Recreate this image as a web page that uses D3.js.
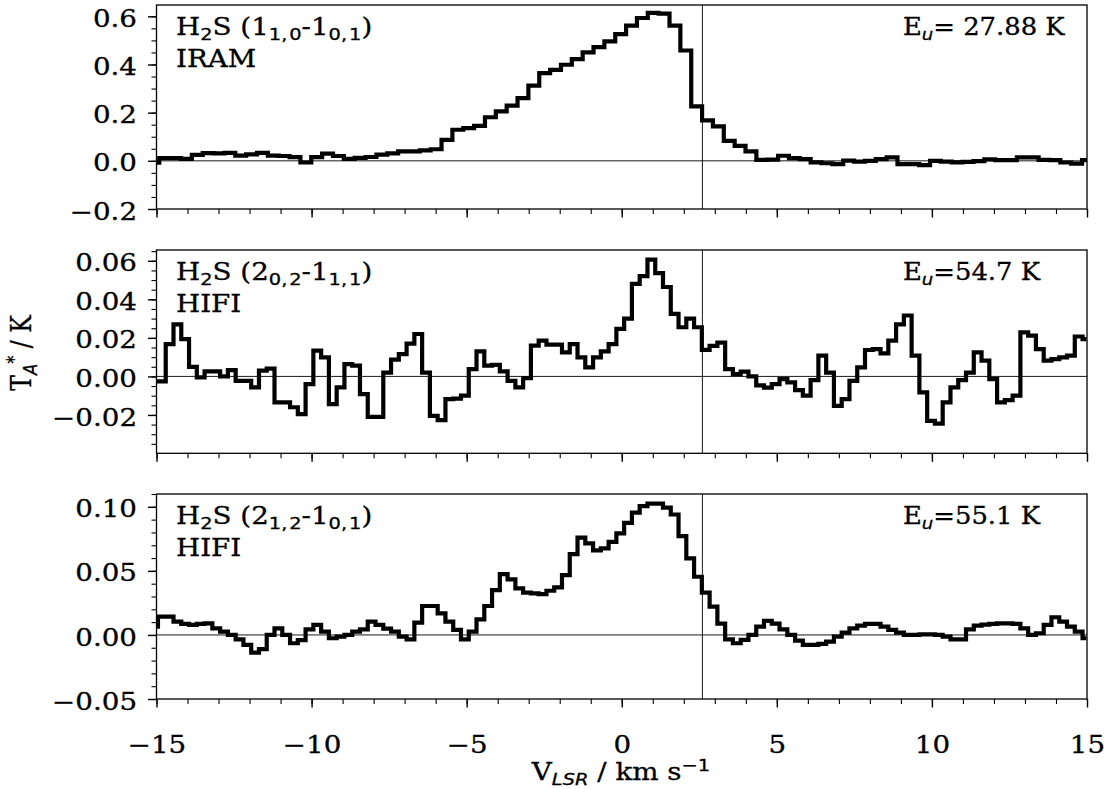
<!DOCTYPE html>
<html><head><meta charset="utf-8">
<script src="https://cdn.jsdelivr.net/npm/d3@7"></script>
<style>body{margin:0;background:#fff}svg{display:block}</style>
</head><body>
<svg id="c" width="1108" height="789"></svg>
<script>
// ---------------- data ----------------
const vIRAM0 = -15.085, dvIRAM = 0.35;     // channel grid of the IRAM spectrum
const vHIFI0 = -15.078, dvHIFI = 0.2505;   // channel grid of the HIFI spectra
const iram110 = [
 -0.008, 0.011, 0.011, 0.008, 0.025, 0.032, 0.031, 0.033, 0.022, 0.027,
  0.033, 0.022, 0.020, 0.015,-0.007, 0.015, 0.030, 0.020, 0.008, 0.012,
  0.016, 0.026, 0.031, 0.039, 0.039, 0.043, 0.048, 0.087, 0.129, 0.136,
  0.145, 0.181, 0.205, 0.229, 0.260, 0.312, 0.364, 0.378, 0.399, 0.422,
  0.450, 0.472, 0.496, 0.526, 0.561, 0.593, 0.614, 0.611, 0.561, 0.458,
  0.226, 0.168, 0.143, 0.083, 0.062, 0.039, 0.004, 0.005, 0.021, 0.011,
  0.007,-0.006,-0.010,-0.014, 0.001,-0.003, 0.000, 0.007, 0.014,-0.014,
 -0.014,-0.018, 0.000,-0.003,-0.006,-0.004,-0.001, 0.006, 0.003, 0.003,
  0.014, 0.014, 0.004, 0.003,-0.007,-0.012, 0.003];
const hifi202 = [
 -0.0026,-0.0026, 0.0168, 0.0270, 0.0194, 0.0050,-0.0005, 0.0026, 0.0026, 0.0000,
  0.0033,-0.0023,-0.0023,-0.0057, 0.0030, 0.0040,-0.0135,-0.0135,-0.0160,-0.0196,
 -0.0040, 0.0134, 0.0099,-0.0144,-0.0057, 0.0064, 0.0056,-0.0092,-0.0210,-0.0210,
  0.0020, 0.0087, 0.0116, 0.0170, 0.0220, 0.0020,-0.0205,-0.0227,-0.0118,-0.0115,
 -0.0100, 0.0038, 0.0130, 0.0056, 0.0060, 0.0026,-0.0023,-0.0057,-0.0009, 0.0160,
  0.0186, 0.0165, 0.0165, 0.0125, 0.0168, 0.0099, 0.0047, 0.0099, 0.0130, 0.0168,
  0.0247, 0.0300, 0.0480, 0.0520, 0.0606, 0.0536, 0.0464, 0.0325, 0.0255, 0.0300,
  0.0255, 0.0138, 0.0158, 0.0175, 0.0038, 0.0012, 0.0025, 0.0000,-0.0046,-0.0058,
 -0.0040,-0.0014,-0.0031,-0.0071,-0.0100,-0.0019, 0.0108, 0.0020,-0.0153,-0.0118,
 -0.0023, 0.0047, 0.0137, 0.0142, 0.0120, 0.0186, 0.0270, 0.0316, 0.0108,-0.0083,
 -0.0231,-0.0245,-0.0135,-0.0057,-0.0019, 0.0020, 0.0125, 0.0082,-0.0014,-0.0135,
 -0.0123,-0.0100, 0.0229, 0.0212, 0.0142, 0.0082, 0.0090, 0.0099, 0.0108, 0.0207,
  0.0194];
const hifi212 = [
  0.0065, 0.0143, 0.0143, 0.0104, 0.0086, 0.0078, 0.0086, 0.0091, 0.0052, 0.0026,
  0.0000,-0.0034,-0.0078,-0.0138,-0.0110, 0.0000, 0.0052, 0.0000,-0.0065,-0.0040,
  0.0044, 0.0078, 0.0026,-0.0026,-0.0013, 0.0000, 0.0026, 0.0044, 0.0104, 0.0078,
  0.0050, 0.0026,-0.0013,-0.0034, 0.0096, 0.0226, 0.0226, 0.0169, 0.0104, 0.0039,
 -0.0034, 0.0026, 0.0122, 0.0226, 0.0350, 0.0475, 0.0434, 0.0363, 0.0330, 0.0325,
  0.0319, 0.0345, 0.0371, 0.0467, 0.0630, 0.0760, 0.0714, 0.0660, 0.0675, 0.0727,
  0.0792, 0.0875, 0.0955, 0.1005, 0.1025, 0.1025, 0.0994, 0.0940, 0.0771, 0.0597,
  0.0454, 0.0330, 0.0221, 0.0088,-0.0034,-0.0065,-0.0039, 0.0000, 0.0065, 0.0110,
  0.0088, 0.0044, 0.0000,-0.0044,-0.0078,-0.0078,-0.0070,-0.0052,-0.0013, 0.0018,
  0.0052, 0.0073, 0.0086, 0.0086, 0.0065, 0.0039, 0.0018, 0.0000, 0.0000, 0.0005,
  0.0005, 0.0000,-0.0013,-0.0034,-0.0034, 0.0044, 0.0073, 0.0080, 0.0086, 0.0091,
  0.0091, 0.0086, 0.0052, 0.0000, 0.0013, 0.0078, 0.0138, 0.0104, 0.0065, 0.0026,
 -0.0026];
const xTicks = [-15, -10, -5, 0, 5, 10, 15];
const xTickLabels = ["\u221215", "\u221210", "\u22125", "0", "5", "10", "15"];
const yTicks1 = [-0.2, 0.0, 0.2, 0.4, 0.6];
const yTickLabels1 = ["\u22120.2", "0.0", "0.2", "0.4", "0.6"];
const yTicks2 = [-0.02, 0.00, 0.02, 0.04, 0.06];
const yTickLabels2 = ["\u22120.02", "0.00", "0.02", "0.04", "0.06"];
const yTicks3 = [-0.05, 0.00, 0.05, 0.10];
const yTickLabels3 = ["\u22120.05", "0.00", "0.05", "0.10"];
const vSys = 2.6;

// ---------------- layout ----------------
const SX = 1.18, FS = 23.5, TSW = 0.3;
const SERIF = "'DejaVu Serif', serif", SANS = "'DejaVu Sans', sans-serif";
const xL = 156.5, xR = 1087;
const panels = [
  {top: 5,   bottom: 209,   dom: [-0.2, 0.647],  vals: iram110, v0: vIRAM0, dv: dvIRAM,
   ticks: yTicks1, labels: yTickLabels1, minor: 0.05,
   name: [["H",0],["2",1],["S (1",0],["1,\u200A0",1],["-1",0],["0,\u200A1",1],[")",0]], inst: "IRAM", eu: "= 27.88 K"},
  {top: 250, bottom: 453.3, dom: [-0.0399, 0.0656], vals: hifi202, v0: vHIFI0, dv: dvHIFI,
   ticks: yTicks2, labels: yTickLabels2, minor: 0.005,
   name: [["H",0],["2",1],["S (2",0],["0,\u200A2",1],["-1",0],["1,\u200A1",1],[")",0]], inst: "HIFI", eu: "=54.7 K"},
  {top: 494, bottom: 699,   dom: [-0.05, 0.11],  vals: hifi212, v0: vHIFI0, dv: dvHIFI,
   ticks: yTicks3, labels: yTickLabels3, minor: 0.01,
   name: [["H",0],["2",1],["S (2",0],["1,\u200A2",1],["-1",0],["0,\u200A1",1],[")",0]], inst: "HIFI", eu: "=55.1 K"}
];

const svg = d3.select("#c");
const x = d3.scaleLinear().domain([-15, 15]).range([xL, xR]);

function stretch(sel) {
  sel.each(function () {
    const t = d3.select(this);
    const tx = +t.attr("x") || 0;
    t.attr("x", tx / SX).attr("transform", `scale(${SX},1)`)
      .attr("stroke", "#000").attr("stroke-width", TSW);
  });
}

// rich text: parts [[string, mode]] 0 serif, 1 sans subscript, 2 italic sans subscript, 3 sans superscript
function rich(parent, px, py, parts, anchor, rotate, sx) {
  const g = parent.append("g").attr("transform", `translate(${px},${py}) scale(${sx || SX},1)` + (rotate ? " rotate(-90)" : ""));
  const t = g.append("text").attr("text-anchor", anchor || "start")
    .style("font-family", SERIF).style("font-size", FS + "px").attr("fill", "#000")
    .attr("stroke", "#000").attr("stroke-width", TSW);
  let cur = 0;
  parts.forEach(([s, m]) => {
    const sp = t.append("tspan").text(s);
    let shift = 0;
    if (m === 1 || m === 2) { sp.style("font-family", SANS).style("font-size", (FS * 0.7) + "px"); shift = 5; }
    if (m === 2) sp.style("font-style", "italic");
    if (m === 3) { sp.style("font-family", SANS).style("font-size", (FS * 0.7) + "px"); shift = -9; }
    sp.attr("dy", shift - cur);
    cur = shift;
  });
  return g;
}

panels.forEach((p, k) => {
  const y = d3.scaleLinear().domain(p.dom).range([p.bottom, p.top]);
  const g = svg.append("g");
  const cid = "clip" + k;
  svg.append("clipPath").attr("id", cid).append("rect")
    .attr("x", xL).attr("y", p.top).attr("width", xR - xL).attr("height", p.bottom - p.top);

  // zero line & systemic velocity line
  g.append("line").attr("x1", xL).attr("x2", xR).attr("y1", y(0)).attr("y2", y(0))
    .attr("stroke", "#000").attr("stroke-width", 0.9);
  g.append("line").attr("x1", x(vSys)).attr("x2", x(vSys)).attr("y1", p.top).attr("y2", p.bottom)
    .attr("stroke", "#000").attr("stroke-width", 0.9);

  // spectrum
  const pts = p.vals.map((v, i) => [p.v0 + i * p.dv, v]);
  g.append("path").datum(pts).attr("clip-path", `url(#${cid})`)
    .attr("fill", "none").attr("stroke", "#000").attr("stroke-width", 4.2)
    .attr("stroke-linejoin", "miter")
    .attr("d", d3.line().x(d => x(d[0])).y(d => y(d[1])).curve(d3.curveStep));

  // frame
  g.append("rect").attr("x", xL).attr("y", p.top).attr("width", xR - xL).attr("height", p.bottom - p.top)
    .attr("fill", "none").attr("stroke", "#000").attr("stroke-width", 1.3);

  // y axis minor
  const lo = Math.ceil(p.dom[0] / p.minor - 1e-6), hi = Math.floor(p.dom[1] / p.minor + 1e-6);
  const minorY = d3.range(lo, hi + 1).map(i => +(i * p.minor).toFixed(4));
  const ayMin = g.append("g").attr("transform", `translate(${xL},0)`)
    .call(d3.axisLeft(y).tickValues(minorY).tickSize(5).tickFormat(""));
  ayMin.select(".domain").remove();
  ayMin.selectAll("line").attr("stroke-width", 1.1);
  // y axis major
  const ay = g.append("g").attr("transform", `translate(${xL},0)`)
    .call(d3.axisLeft(y).tickValues(p.ticks).tickSize(8.5).tickPadding(11)
      .tickFormat((d, i) => p.labels[i]));
  ay.select(".domain").remove();
  ay.selectAll("line").attr("stroke-width", 1.4);
  ay.selectAll("text").style("font-family", SERIF).style("font-size", FS + "px")
    .attr("fill", "#000").attr("dy", "0.43em").call(stretch);

  // x axis
  const minorX = d3.range(-15, 16, 1);
  const axMin = g.append("g").attr("transform", `translate(0,${p.bottom})`)
    .call(d3.axisBottom(x).tickValues(minorX).tickSize(5).tickFormat(""));
  axMin.select(".domain").remove();
  axMin.selectAll("line").attr("stroke-width", 1.1);
  const ax = g.append("g").attr("transform", `translate(0,${p.bottom})`)
    .call(d3.axisBottom(x).tickValues(xTicks).tickSize(8.5).tickPadding(29)
      .tickFormat((d, i) => k === 2 ? xTickLabels[i] : ""));
  ax.select(".domain").remove();
  ax.selectAll("line").attr("stroke-width", 1.4);
  ax.selectAll("text").style("font-family", SERIF).style("font-size", FS + "px")
    .attr("fill", "#000").call(stretch);

  // annotations
  rich(svg, 176, p.top + 30, p.name, "start");
  rich(svg, 176, p.top + 62, [[p.inst, 0]], "start");
  rich(svg, 903, p.top + 30, [["E", 0], ["u", 2], [p.eu, 0]], "start", false, 1.1);
});

// axis titles
rich(svg, 31, 353, [["T", 0], ["A", 2], ["*", 3], [" / K", 0]], "middle", true);
rich(svg, 621, 780, [["V", 0], ["LSR", 2], [" / km s", 0], ["\u22121", 3]], "middle");
</script>
</body></html>
